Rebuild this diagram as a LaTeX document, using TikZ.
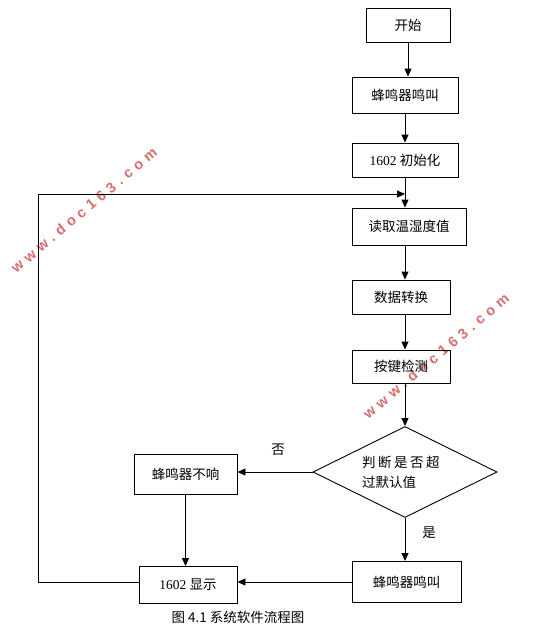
\documentclass[tikz,border=0pt]{standalone}
\usepackage{fontspec}
\setmainfont{Liberation Serif}
\newfontfamily\cjk{Noto Sans CJK SC}
\newfontfamily\wmfont[LetterSpace=34]{Liberation Sans}
\usetikzlibrary{arrows.meta,shapes.geometric}
\definecolor{wmred}{RGB}{214,110,110}
\begin{document}
\begin{tikzpicture}[x=1pt,y=-1pt,
  box/.style={draw, line width=0.9pt, inner sep=0pt, font=\fontsize{13.5}{16}\selectfont},
  arr/.style={-{Triangle[length=8pt,width=7pt]}, line width=0.9pt},
  lbl/.style={font=\fontsize{13.5}{16}\selectfont\cjk, inner sep=0pt},
  wm/.style={font=\fontsize{14.5}{16}\selectfont\bfseries\wmfont, text=wmred, inner sep=0pt}]
\useasboundingbox (0,0) rectangle (546,634);
% watermarks
\node[wm, rotate=40] (wm1) at (84,210) {www.doc163.com};
\node[wm, rotate=40] (wm2) at (436,356) {www.doc163.com};
% boxes
\node[box, minimum width=84pt, minimum height=34pt] (start) at (408,25) {\cjk 开始};
\node[box, minimum width=106pt, minimum height=36pt] (beep1) at (405,95) {\cjk 蜂鸣器鸣叫};
\node[box, minimum width=106pt, minimum height=34pt] (init) at (405,160) {1602 {\cjk 初始化}};
\node[box, minimum width=114pt, minimum height=37pt] (read) at (409,226.5) {\cjk 读取温湿度值};
\node[box, minimum width=98pt, minimum height=34pt] (conv) at (401,297) {\cjk 数据转换};
\node[box, minimum width=98pt, minimum height=33pt] (key) at (401,366.5) {\cjk 按键检测};
\node[draw, line width=0.9pt, diamond, minimum width=184pt, minimum height=91pt, inner sep=0pt] (dia) at (405,472) {};
\node[lbl, align=left, anchor=west, font=\fontsize{13.5}{20}\selectfont\cjk] (dtext) at (362,472) {判\kern2.5pt 断\kern2.5pt 是\kern2.5pt 否\kern2.5pt 超\\过默认值};
\node[box, minimum width=103pt, minimum height=40pt] (nobeep) at (185.5,474) {\cjk 蜂鸣器不响};
\node[box, minimum width=98pt, minimum height=37pt] (disp) at (188,585) {1602 {\cjk 显示}};
\node[box, minimum width=109pt, minimum height=41pt] (beep2) at (406.5,582) {\cjk 蜂鸣器鸣叫};
% labels
\node[lbl] (no) at (278,450) {否};
\node[lbl] (yes) at (429,533) {是};
\node[lbl] (cap) at (238,617) {图 4.1 系统软件流程图};
% connectors
\coordinate (j) at (405,194);
\coordinate (lc) at (38,194);
\draw[arr] (start) -- (start |- beep1.north);
\draw[arr] (beep1) -- (init);
\draw[arr] (init.south) -- (init.south |- read.north);
\draw[arr] (j |- read.south) -- (j |- conv.north);
\draw[arr] (j |- conv.south) -- (j |- key.north);
\draw[arr] (j |- key.south) -- (dia.north);
\draw[arr] (dia.west) -- (dia.west -| nobeep.east);
\draw[arr] (dia.south) -- (dia.south |- beep2.north);
\draw[arr] (nobeep.south) -- (nobeep.south |- disp.north);
\draw[arr] (beep2.west) -- (beep2.west -| disp.east);
\draw[arr] (disp.west |- beep2.west) -| (lc) -- (j);
\end{tikzpicture}
\end{document}
